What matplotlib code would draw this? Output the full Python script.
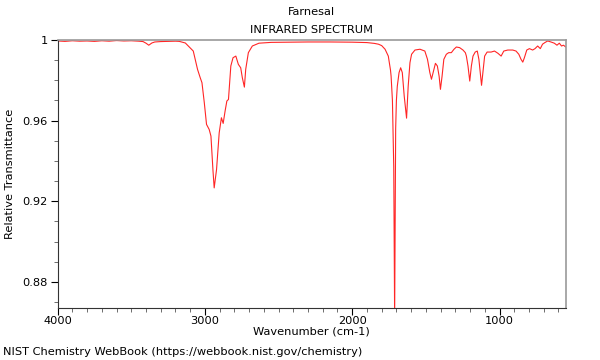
import matplotlib as mpl
mpl.use('Agg')
import matplotlib.pyplot as plt
from matplotlib.ticker import MultipleLocator, FixedLocator

# spectrum: wavenumber (cm-1) and relative transmittance
wavenumber = [4000, 3950, 3900, 3850, 3800, 3750, 3700, 3650, 3600, 3550,
              3500, 3450, 3420, 3400, 3381, 3360, 3340, 3300, 3250, 3200,
              3174, 3133, 3106, 3079, 3050, 3032, 3020, 3004, 2989, 2971,
              2959, 2945, 2937, 2921, 2903, 2888, 2876, 2863, 2851, 2840,
              2824, 2809, 2790, 2773, 2757, 2746, 2732, 2723, 2705, 2678,
              2633, 2550, 2450, 2300, 2150, 2000, 1900, 1850, 1822, 1800,
              1777, 1755, 1740, 1736, 1727, 1718, 1712, 1708, 1705, 1700,
              1694, 1682, 1671, 1660, 1647, 1635, 1631, 1620, 1608, 1597,
              1574, 1540, 1507, 1489, 1473, 1462, 1451, 1435, 1422, 1410,
              1401, 1390, 1378, 1361, 1345, 1327, 1309, 1293, 1271, 1248,
              1232, 1225, 1214, 1202, 1191, 1180, 1165, 1151, 1140, 1128,
              1122, 1113, 1101, 1084, 1057, 1034, 1011, 989, 971, 944,
              910, 888, 869, 854, 842, 831, 815, 797, 775, 759,
              741, 723, 708, 692, 673, 651, 628, 610, 594, 579,
              566, 550]
transmittance = [.9995, .9993, .9996, .9994, .9995, .9993, .9996, .9994, .9997, .9995,
                 .9996, .9994, .9992, .9984, .9974, .9985, .9990, .9992, .9993, .9994,
                 .9993, .9985, .9965, .9945, .9854, .9813, .9788, .9688, .9581, .9556,
                 .9523, .9350, .9266, .9357, .9539, .9614, .9586, .9647, .9697, .9705,
                 .9871, .9912, .9920, .9879, .9862, .9813, .9766, .9854, .9937, .9970,
                 .9984, .9988, .9989, .9990, .9990, .9989, .9987, .9983, .9979, .9972,
                 .9954, .9920, .9850, .9820, .9700, .9370, .8620, .9200, .9560, .9700,
                 .9770, .9838, .9862, .9838, .9722, .9639, .9612, .9770, .9887, .9929,
                 .9950, .9954, .9945, .9904, .9838, .9805, .9838, .9884, .9871, .9820,
                 .9755, .9820, .9904, .9929, .9937, .9937, .9954, .9965, .9962, .9950,
                 .9937, .9920, .9871, .9796, .9871, .9920, .9940, .9945, .9904, .9820,
                 .9775, .9838, .9920, .9940, .9940, .9945, .9934, .9920, .9945, .9950,
                 .9950, .9945, .9929, .9904, .9890, .9912, .9950, .9957, .9950, .9957,
                 .9970, .9957, .9979, .9987, .9995, .9990, .9984, .9974, .9984, .9970,
                 .9974, .9965]

x_ticks = [4000, 3000, 2000, 1000]
y_ticks = [0.88, 0.92, 0.96, 1.0]
y_labels = ['0.88', '0.92', '0.96', '1']

fs = 8.2
fig = plt.figure(figsize=(6, 3.6), dpi=100)
ax = fig.add_axes([0.096, 0.1444, 0.847, 0.7446])
ax.plot(wavenumber, transmittance, color='red', lw=0.8, alpha=0.85)

ax.set_xlim(4000, 550)
ax.set_ylim(0.867, 1.0)
ax.xaxis.set_major_locator(FixedLocator(x_ticks))
ax.xaxis.set_minor_locator(MultipleLocator(100))
ax.yaxis.set_major_locator(FixedLocator(y_ticks))
ax.set_yticklabels(y_labels)
ax.yaxis.set_minor_locator(MultipleLocator(0.01))
ax.tick_params(which='major', length=5, width=0.8, labelsize=fs, pad=2)
ax.tick_params(axis='x', which='major', pad=1)
ax.tick_params(which='minor', length=3, width=0.6, color='#555555')

for side in ('top', 'right'):
    ax.spines[side].set_color('#999999')
    ax.spines[side].set_linewidth(1.2)
for side in ('left', 'bottom'):
    ax.spines[side].set_color('#333333')

ax.set_xlabel('Wavenumber (cm-1)', fontsize=fs)
ax.xaxis.set_label_coords(0.5, -0.07)
ax.set_ylabel('Relative Transmittance', fontsize=fs)
ax.yaxis.set_label_coords(-0.083, 0.5)
cx = 0.096 + 0.847 / 2
fig.text(cx, 0.967, 'Farnesal', ha='center', va='center', fontsize=fs)
fig.text(cx, 0.917, 'INFRARED SPECTRUM', ha='center', va='center', fontsize=fs)
fig.text(0.005, 0.022, 'NIST Chemistry WebBook (https://webbook.nist.gov/chemistry)',
         ha='left', va='center', fontsize=fs)

fig.savefig('out.png', dpi=100)
